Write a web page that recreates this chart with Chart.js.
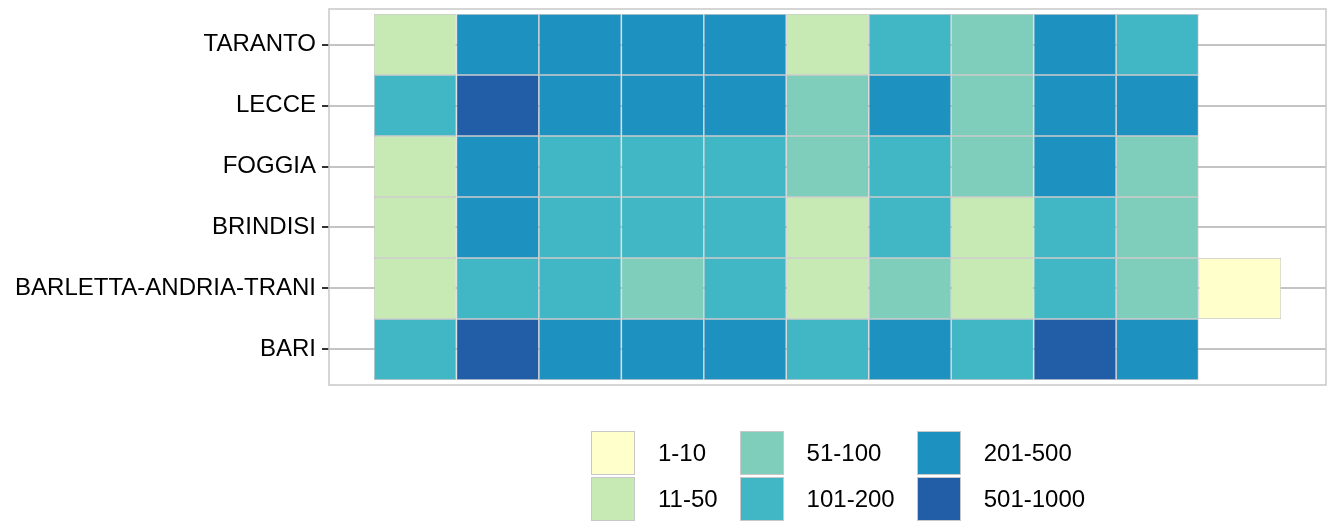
<!DOCTYPE html>
<html><head><meta charset="utf-8">
<script src="https://cdn.jsdelivr.net/npm/chart.js@4/dist/chart.umd.min.js"></script>
<style>
html,body{margin:0;padding:0;background:#fff;}
#wrap{position:relative;width:1330px;height:525px;}
#legend{position:absolute;left:591px;top:431px;display:grid;grid-template-rows:44px 44px;grid-auto-flow:column;grid-auto-columns:max-content;column-gap:22px;row-gap:2px;font-family:"Liberation Sans",Arial,sans-serif;font-size:24px;color:#000;}
.item{display:flex;align-items:center;}
.sw{width:44px;height:44px;box-sizing:border-box;border:1px solid #c8c8c8;margin-right:23px;}
</style></head><body>
<div id="wrap"><canvas id="c" width="1330" height="525"></canvas><div id="legend"></div></div>
<script>
// Row categories (top to bottom)
const provinces = ["TARANTO", "LECCE", "FOGGIA", "BRINDISI", "BARLETTA-ANDRIA-TRANI", "BARI"];
// Legend classes
const classes = ["1-10", "11-50", "51-100", "101-200", "201-500", "501-1000"];
// Class of each cell, column by column
const TARANTO  = ["11-50","201-500","201-500","201-500","201-500","11-50","101-200","51-100","201-500","101-200"];
const LECCE    = ["101-200","501-1000","201-500","201-500","201-500","51-100","201-500","51-100","201-500","201-500"];
const FOGGIA   = ["11-50","201-500","101-200","101-200","101-200","51-100","101-200","51-100","201-500","51-100"];
const BRINDISI = ["11-50","201-500","101-200","101-200","101-200","11-50","101-200","11-50","101-200","51-100"];
const BAT      = ["11-50","101-200","101-200","51-100","101-200","11-50","51-100","11-50","101-200","51-100","1-10"];
const BARI     = ["101-200","501-1000","201-500","201-500","201-500","101-200","201-500","101-200","501-1000","201-500"];

const palette = ["#FFFFCC", "#C7E9B4", "#7FCDBB", "#41B6C4", "#1D91C0", "#225EA8"];
const rows = [TARANTO, LECCE, FOGGIA, BRINDISI, BAT, BARI];
const nCols = Math.max(...rows.map(r => r.length));

const datasets = classes.map((cls, k) => ({
  label: cls,
  data: rows.flatMap((row, r) => row.map((v, c) => v === cls ? {x: [c - 0.5, c + 0.5], y: r} : null).filter(Boolean)),
  backgroundColor: palette[k],
  borderColor: "#bdbdbd",
  borderWidth: 0.75,
  borderSkipped: false,
  inflateAmount: 0,
  grouped: false,
  barPercentage: 1,
  categoryPercentage: 1
}));

const panelBorder = {
  id: "panelBorder",
  afterDraw(chart) {
    const {ctx, chartArea: a} = chart;
    ctx.save();
    ctx.strokeStyle = "#c8c8c8";
    ctx.lineWidth = 1.5;
    ctx.strokeRect(a.left, a.top, a.right - a.left, a.bottom - a.top);
    ctx.restore();
  }
};

new Chart(document.getElementById("c"), {
  type: "bar",
  data: {datasets},
  plugins: [panelBorder],
  options: {
    indexAxis: "y",
    responsive: false,
    animation: false,
    devicePixelRatio: 1,
    layout: {padding: {top: 9, right: 4, bottom: 140, left: 0}},
    plugins: {legend: {display: false}, tooltip: {enabled: false}},
    scales: {
      x: {type: "linear", display: false, offset: false, min: -1.045, max: (nCols - 1) + 1.045},
      y: {
        type: "linear", reverse: true, offset: false, min: -0.582, max: provinces.length - 1 + 0.582,
        afterFit(s) { s.width = 329; s.paddingTop = 0; s.paddingBottom = 0; },
        afterBuildTicks(s) { s.ticks = provinces.map((_, i) => ({value: i})); },
        grid: {offset: false, color: "#c4c4c4", lineWidth: 2, tickColor: "#333", tickLength: 7, tickWidth: 2},
        border: {display: false},
        ticks: {
          padding: 6, color: "#000",
          font: {family: "'Liberation Sans', Arial, sans-serif", size: 24},
          callback: v => provinces[v]
        }
      }
    }
  }
});

const legend = document.getElementById("legend");
classes.forEach((cls, k) => {
  const it = document.createElement("div");
  it.className = "item";
  const sw = document.createElement("div");
  sw.className = "sw";
  sw.style.background = palette[k];
  const tx = document.createElement("span");
  tx.textContent = cls;
  it.appendChild(sw); it.appendChild(tx);
  legend.appendChild(it);
});
</script>
</body></html>
